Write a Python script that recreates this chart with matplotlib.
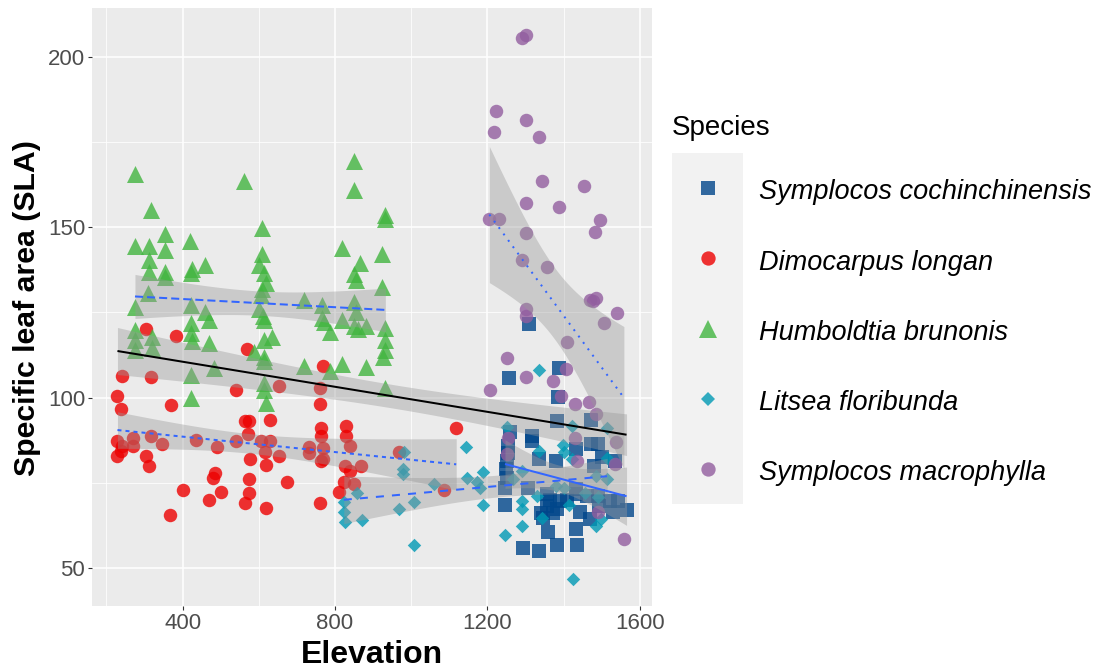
import numpy as np
import matplotlib
matplotlib.use("Agg")
import matplotlib.pyplot as plt
from matplotlib.lines import Line2D
from matplotlib.patches import Rectangle

plt.rcParams['font.family'] = ['Liberation Sans', 'DejaVu Sans']
plt.rcParams['lines.scale_dashes'] = False

# ---------------- data ----------------
species = ["Symplocos cochinchinensis", "Dimocarpus longan", "Humboldtia brunonis",
           "Litsea floribunda", "Symplocos macrophylla"]
colors = ["#00468B", "#ED0000", "#42B540", "#0099B4", "#925E9F"]
markers = ["s", "o", "^", "D", "o"]

sc_elev = [1310, 1257, 1388, 1386, 1383, 1471, 1316, 1316, 1255, 1255, 1473, 1491, 1432, 1334, 1380,
           1534, 1480, 1249, 1252, 1246, 1307, 1432, 1432, 1355, 1491, 1521, 1543, 1565, 1246, 1355,
           1382, 1347, 1443, 1470, 1494, 1360, 1432, 1292, 1336, 1382, 1436, 1365, 1372, 1390, 1340,
           1500, 1410, 1460, 1530, 1250, 1258]
sc_sla = [121.6, 105.8, 108.7, 100.2, 93.1, 93.4, 88.7, 87.2, 85.8, 83.8, 86.3, 86.3, 84.8, 81.9, 81.4,
          81.4, 79.9, 78.9, 76.4, 73.6, 73.6, 73.1, 71.6, 71.6, 71.1, 69.7, 69.7, 67.0, 68.4, 68.2,
          67.3, 64.7, 66.3, 64.5, 68.2, 60.4, 61.4, 55.8, 55.0, 56.8, 56.8, 70.0, 66.0, 69.5, 66.0,
          82.5, 70.0, 71.0, 66.5, 81.5, 90.0]

dl_elev = [305, 383, 568, 768, 242, 316, 539, 654, 760, 229, 238, 369, 760, 565, 575, 629, 762, 762,
           830, 830, 229, 242, 238, 271, 271, 229, 316, 347, 303, 312, 434, 491, 539, 571, 606, 629,
           617, 652, 578, 619, 731, 731, 768, 762, 768, 838, 827, 838, 868, 823, 849, 810, 484, 480,
           573, 573, 565, 619, 674, 500, 468, 400, 367, 760, 1118, 969, 1085]
dl_sla = [120.1, 118.0, 114.2, 109.2, 106.2, 106.0, 102.3, 103.3, 102.8, 100.6, 96.7, 97.7, 98.0, 93.1,
          93.1, 93.3, 91.1, 88.7, 91.6, 88.6, 87.2, 85.8, 84.3, 88.2, 85.8, 82.8, 88.7, 86.5, 83.0, 79.9,
          87.5, 85.5, 87.2, 89.2, 87.4, 87.2, 84.0, 82.8, 81.9, 80.2, 85.5, 83.8, 85.3, 81.4, 82.0, 85.8,
          79.9, 78.5, 79.9, 75.1, 74.6, 72.3, 78.0, 76.5, 76.0, 72.1, 69.0, 67.7, 75.1, 72.3, 70.0, 72.9,
          65.5, 69.2, 91.1, 84.0, 72.9]

hb_elev = [275, 562, 849, 849, 316, 930, 932, 355, 609, 275, 312, 355, 419, 818, 923, 609, 865, 460,
           425, 423, 355, 355, 312, 312, 600, 613, 620, 608, 605, 849, 855, 923, 310, 275, 421, 460,
           469, 718, 766, 766, 788, 818, 849, 855, 849, 860, 880, 930, 930, 930, 925, 613, 613, 635,
           421, 421, 275, 275, 275, 319, 319, 718, 818, 880, 613, 469, 482, 421, 421, 587, 613, 613,
           613, 619, 788, 770, 932, 425, 600, 610]
hb_sla = [165.7, 163.5, 169.4, 161.0, 155.2, 153.5, 152.5, 148.0, 149.9, 144.4, 144.4, 143.3, 146.0,
          143.8, 142.3, 142.3, 139.4, 138.9, 137.9, 136.5, 136.9, 135.5, 140.5, 136.9, 139.0, 136.5,
          133.5, 132.0, 130.0, 136.4, 134.5, 132.5, 130.6, 126.7, 127.2, 125.2, 122.8, 128.7, 127.2,
          123.3, 119.4, 122.8, 128.0, 125.0, 121.0, 120.0, 121.0, 120.5, 117.0, 114.0, 112.0, 122.8,
          117.0, 117.9, 121.8, 119.0, 119.9, 117.0, 114.0, 117.9, 114.5, 109.2, 110.0, 109.0, 112.0,
          116.0, 108.7, 106.7, 99.9, 113.5, 110.6, 104.3, 102.3, 98.4, 107.7, 122.3, 102.8, 116.5,
          126.0, 124.0]

lf_elev = [1336, 1251, 1143, 1397, 1421, 1514, 1334, 1421, 1514, 982, 978, 978, 1189, 1146, 1172,
           1181, 1059, 1290, 1268, 1402, 1329, 1491, 1514, 1485, 1006, 967, 1189, 1290, 1290, 1290,
           1246, 1006, 1342, 1486, 1499, 1414, 1425, 823, 823, 827, 858, 872, 1402, 1455, 1380]
lf_sla = [108.0, 91.4, 85.5, 86.0, 91.6, 91.1, 84.3, 81.9, 82.4, 84.0, 78.9, 77.5, 78.2, 76.5, 75.1,
          73.6, 74.6, 78.5, 76.0, 73.4, 71.1, 70.7, 76.2, 77.0, 69.4, 67.3, 68.4, 69.7, 67.3, 62.4,
          59.6, 56.7, 64.8, 62.4, 64.3, 68.4, 46.8, 69.3, 66.5, 63.5, 72.1, 64.2, 84.0, 72.0, 74.0]

sm_elev = [1290, 1301, 1223, 1300, 1217, 1336, 1344, 1453, 1300, 1388, 1205, 1231, 1495, 1482, 1300,
           1290, 1355, 1469, 1485, 1541, 1506, 1300, 1300, 1408, 1251, 1406, 1300, 1371, 1207, 1392,
           1430, 1467, 1486, 1255, 1430, 1537, 1252, 1436, 1534, 1491, 1558, 1478]
sm_sla = [205.7, 206.4, 184.2, 181.6, 178.1, 176.4, 163.7, 162.2, 157.1, 155.9, 152.5, 152.3, 152.2,
          148.6, 148.2, 140.4, 138.4, 128.7, 129.2, 124.8, 122.0, 125.9, 124.0, 116.2, 111.6, 108.4,
          106.0, 104.8, 102.3, 100.4, 98.2, 98.6, 95.3, 88.2, 88.2, 86.9, 83.3, 81.4, 80.4, 66.3, 58.5,
          128.5]

elev_sets = [sc_elev, dl_elev, hb_elev, lf_elev, sm_elev]
sla_sets = [sc_sla, dl_sla, hb_sla, lf_sla, sm_sla]

x_ticks = [400, 800, 1200, 1600]
x_minor = [200, 600, 1000, 1400]
y_ticks = [50, 100, 150, 200]
y_minor = [75, 125, 175]

# ---------------- styles ----------------
W, H = 1102, 671
fig = plt.figure(figsize=(W / 100, H / 100), dpi=100)
px = lambda v: v / W
py = lambda v: 1 - v / H

ax = fig.add_axes([px(92), py(606), px(652) - px(92), py(8) - py(606)])
ax.set_facecolor("#EBEBEB")
for s in ax.spines.values():
    s.set_visible(False)

point_size = [94, 94, 150, 47, 94]
alpha = 0.8
line_dashes = [None, (2.9, 2.9), (5.8, 2.9), (5.8, 5.8), (1.4, 4.3)]


def t_quant(df):
    z = 1.959964
    return z + (z ** 3 + z) / (4 * df) + (5 * z ** 5 + 16 * z ** 3 + 3 * z) / (96 * df ** 2)


def smooth(x, y, color, dashes):
    x = np.asarray(x, float)
    y = np.asarray(y, float)
    n = len(x)
    b, a = np.polyfit(x, y, 1)
    xs = np.linspace(x.min(), x.max(), 80)
    yh = a + b * xs
    res = y - (a + b * x)
    s = np.sqrt(np.sum(res ** 2) / (n - 2))
    sxx = np.sum((x - x.mean()) ** 2)
    se = s * np.sqrt(1.0 / n + (xs - x.mean()) ** 2 / sxx)
    t = t_quant(n - 2)
    ax.fill_between(xs, yh - t * se, yh + t * se, color="#999999", alpha=0.4, lw=0, zorder=3)
    ln, = ax.plot(xs, yh, color=color, lw=1.45, zorder=4, solid_capstyle="butt")
    if dashes is not None:
        ln.set_dashes(dashes)


for i in range(len(species)):
    ax.scatter(elev_sets[i], sla_sets[i], s=point_size[i], marker=markers[i], color=colors[i],
               alpha=alpha, linewidths=0, zorder=2)

for i in range(len(species)):
    smooth(elev_sets[i], sla_sets[i], "#3366FF", line_dashes[i])

all_x = np.concatenate([np.asarray(e, float) for e in elev_sets])
all_y = np.concatenate([np.asarray(v, float) for v in sla_sets])
smooth(all_x, all_y, "black", None)

xr = all_x.max() - all_x.min()
yr = all_y.max() - all_y.min()
ax.set_xlim(all_x.min() - 0.05 * xr, all_x.max() + 0.05 * xr)
ax.set_ylim(all_y.min() - 0.05 * yr, all_y.max() + 0.05 * yr)

ax.set_xticks(x_ticks)
ax.set_xticks(x_minor, minor=True)
ax.set_yticks(y_ticks)
ax.set_yticks(y_minor, minor=True)
ax.grid(which="major", color="white", lw=1.1, zorder=0)
ax.grid(which="minor", color="white", lw=0.55, zorder=0)
ax.set_axisbelow(True)
ax.tick_params(which="major", length=3, width=0.8, color="#333333", labelcolor="#4D4D4D",
               labelsize=16, pad=2)
ax.tick_params(which="minor", length=0)

fig.text(px(27), py(308), "Specific leaf area (SLA)", rotation=90, ha="center", va="center",
         fontsize=21.8, fontweight="bold")
fig.text(px(372), py(663), "Elevation", ha="center", va="baseline", fontsize=23, fontweight="bold")

# ---------------- legend ----------------
fig.text(px(672), py(135), "Species", ha="left", va="baseline", fontsize=20)
fig.add_artist(Rectangle((px(672), py(504)), px(743) - px(672), py(153) - py(504),
                         transform=fig.transFigure, facecolor="#F2F2F2", edgecolor="none"))
leg_ms = [10.3, 10.3, 12.7, 7.1, 10.3]
for i, name in enumerate(species):
    yk = 188 + 70.25 * i
    fig.add_artist(Line2D([px(707.7)], [py(yk)], transform=fig.transFigure, marker=markers[i],
                          ms=leg_ms[i], color=colors[i], alpha=alpha, ls="none", mew=0))
    fig.text(px(759), py(yk + 11.3), name, ha="left", va="baseline", fontsize=19.5, fontstyle="italic")

fig.savefig("out.png", dpi=100)
